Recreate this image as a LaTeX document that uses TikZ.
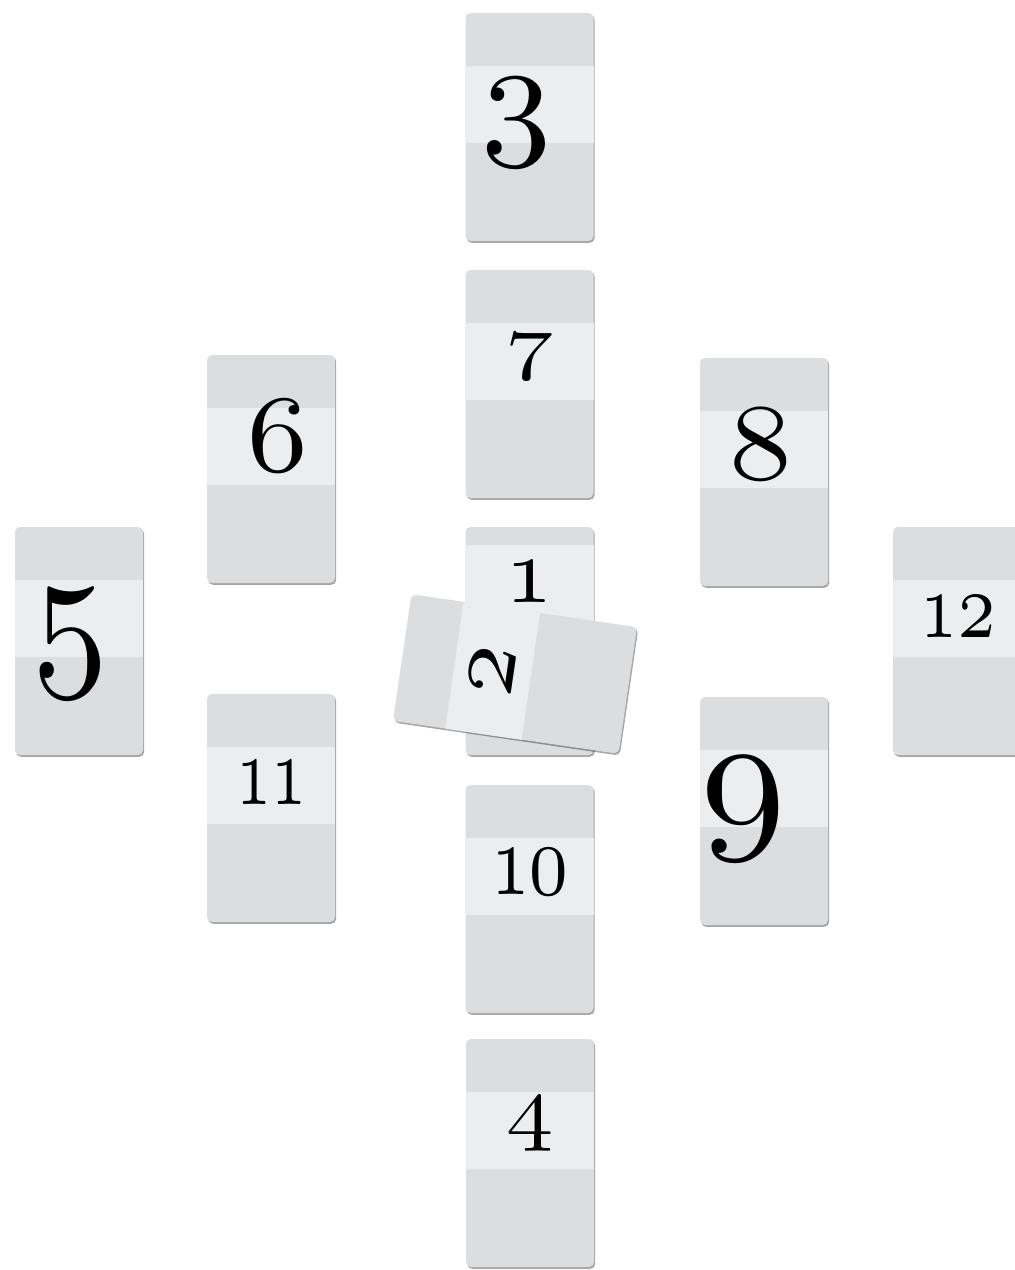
\documentclass[tikz,border=0pt]{standalone}
\usepackage{graphicx}
\usepackage{tikz}
\usetikzlibrary{calc,shadows}
\definecolor{cardgray}{RGB}{220,221,223}
\definecolor{bandgray}{RGB}{236,237,239}

\begin{document}
\begin{tikzpicture}[
      x=1pt, y=-1pt,
      card/.style={rectangle, rounded corners=5pt, inner sep=0pt, minimum width=128pt, minimum height=228pt, fill=cardgray,
                   drop shadow={shadow xshift=1.2pt, shadow yshift=-1.8pt, fill=black, opacity=0.35}},
      band/.style={fill=bandgray},
      cardnum/.style={anchor=base, inner sep=0pt, text=black, font=\fontsize{10}{10}\selectfont},
]

\fill[white] (0,0) rectangle (1015,1270);
\useasboundingbox (0,0) rectangle (1015,1270);

\foreach \name/\x/\y/\lbl/\bnd/\fs/\xs/\dx/\dy in {
      c3/529.5/127/3/0.232/140/1/-13/35,
      c7/529.5/384/7/0.232/74/1.3/0/4,
      c1/529.5/641/1/0.079/95/1/0/19.5,
      c10/529.5/899/10/0.232/104/0.74/0/18.5,
      c4/530/1153/4/0.232/86/1.1/0/4,
      c6/271/469/6/0.232/110/1.1/7/25,
      c11/271/808/11/0.232/100/0.7/0/19.5,
      c8/764/472/8/0.232/109/1.15/-3/30,
      c9/764/811/9/0.232/163/1.05/-21/40,
      c5/79/641/5/0.232/172/0.88/-9/46,
      c12/957/641/12/0.232/95/0.78/1/19}{
  \pgfmathsetmacro\sy{\fs/10}
  \pgfmathsetmacro\sx{\sy*\xs}
  \node[card] (\name) at (\x,\y) {};
  \fill[band] ($(\name.north west)!\bnd!(\name.south west)$) rectangle ($(\name.north east)!\bnd+0.338!(\name.south east)$);
  \node[cardnum, xshift=\dx pt, yshift=-\dy pt] (\name-num)
       at ($(\name.north)!\bnd+0.169!(\name.south)$) {\scalebox{\sx}[\sy]{$\mathnormal{\lbl}$}};
}

\node[card, rotate=81.7] (c2) at (515,674) {};
\fill[band] ($(c2.north west)!0.232!(c2.south west)$) -- ($(c2.north east)!0.232!(c2.south east)$)
         -- ($(c2.north east)!0.57!(c2.south east)$) -- ($(c2.north west)!0.57!(c2.south west)$) -- cycle;
\node[cardnum, rotate=81.7] (c2-num)
     at ($(c2.north)!0.401!(c2.south)!21.5pt!(c2.south)$) {\scalebox{10}{$\mathnormal{2}$}};

\end{tikzpicture}
\end{document}
